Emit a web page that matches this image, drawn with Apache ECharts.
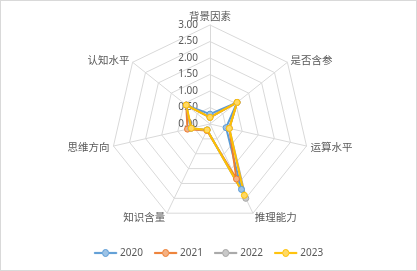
<!DOCTYPE html>
<html>
<head>
<meta charset="utf-8">
<script src="https://cdn.jsdelivr.net/npm/echarts@6/dist/echarts.min.js"></script>
<style>
html,body{margin:0;padding:0;background:#fff;}
#c{width:417px;height:271px;box-sizing:border-box;border:1px solid #D9D9D9;}
</style>
</head>
<body>
<div id="c"></div>
<script>
// Indicators in clockwise order starting at the top
const indicators = ['背景因素', '是否含参', '运算水平', '推理能力', '知识含量', '思维方向', '认知水平'];
const years = ['2020', '2021', '2022', '2023'];
const s2020 = [0.30, 1.05, 0.50, 2.20, 0.20, 0.60, 0.92];
const s2021 = [0.20, 1.05, 0.60, 1.85, 0.22, 0.70, 0.92];
const s2022 = [0.20, 1.05, 0.60, 2.50, 0.20, 0.60, 0.92];
const s2023 = [0.20, 1.05, 0.60, 2.40, 0.20, 0.58, 0.92];
const tickLabels = ['0.00', '0.50', '1.00', '1.50', '2.00', '2.50', '3.00'];
const axisMax = 3;

const colors = ['#5B9BD5', '#ED7D31', '#A5A5A5', '#FFC000'];
const fills = ['#9DC3E6', '#F4B183', '#C9C9C9', '#FFD966'];
const allSeries = [s2020, s2021, s2022, s2023];

// ECharts radar runs counter-clockwise; reorder to clockwise (first stays, rest reversed)
function cw(arr) { return [arr[0]].concat(arr.slice(1).reverse()); }

const legendIcon = 'path://M0,3 L8.5,3 A3,3 0 0 1 14.5,3 L23,3 L23,4.2 L14.5,4.2 A3,3 0 0 1 8.5,4.2 L0,4.2 Z';

const chart = echarts.init(document.getElementById('c'), null, {renderer: 'canvas'});
chart.setOption({
  animation: false,
  radar: {
    center: [209, 123],
    radius: 99,
    startAngle: 90,
    shape: 'polygon',
    splitNumber: 6,
    axisNameGap: 4,
    indicator: cw(indicators).map(n => ({name: n, min: 0, max: axisMax})),
    axisName: {color: '#595959', fontSize: 10.5, fontFamily: 'Noto Sans CJK SC'},
    axisLine: {lineStyle: {color: '#D9D9D9', width: 1}},
    splitLine: {lineStyle: {color: '#D9D9D9', width: 1}},
    splitArea: {show: false},
    axisLabel: {show: false},
    axisTick: {show: false}
  },
  grid: {left: 209, top: 24, width: 1, height: 99},
  xAxis: {type: 'value', show: false},
  yAxis: {
    type: 'value', min: 0, max: axisMax, interval: 0.5,
    axisLine: {show: false}, axisTick: {show: false}, splitLine: {show: false},
    axisLabel: {
      margin: 12, color: '#595959', fontSize: 10, fontFamily: 'Noto Sans',
      formatter: (v) => tickLabels[Math.round(v / 0.5)]
    }
  },
  legend: {
    bottom: 7,
    left: 'center',
    itemWidth: 23,
    itemHeight: 7,
    itemGap: 11,
    textStyle: {color: '#595959', fontSize: 10, fontFamily: 'Noto Sans', padding: [0, 0, 0, -2]},
    data: years.map((y, i) => ({
      name: y,
      icon: legendIcon,
      itemStyle: {color: fills[i], borderColor: colors[i], borderWidth: 1}
    }))
  },
  series: years.map((y, i) => ({
    name: y,
    type: 'radar',
    symbol: 'circle',
    symbolSize: 6,
    lineStyle: {color: colors[i], width: 2},
    itemStyle: {color: fills[i], borderColor: colors[i], borderWidth: 1},
    data: [{value: cw(allSeries[i]), name: y}]
  }))
});
</script>
</body>
</html>
